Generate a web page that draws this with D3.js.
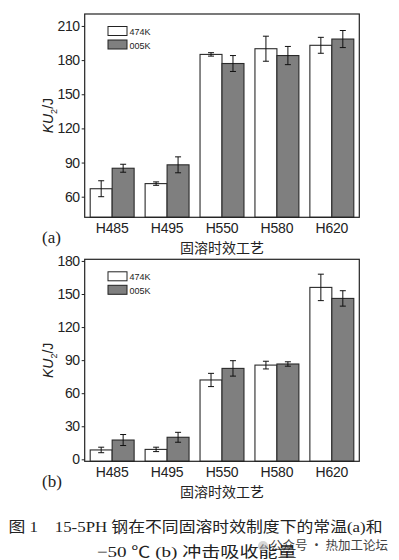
<!DOCTYPE html>
<html>
<head>
  <meta charset="utf-8">
  <title>15-5PH impact energy</title>
  <script src="https://d3js.org/d3.v7.min.js"></script>
  <style>
    body { margin: 0; background: #fff; }
    svg text { font-family: "Liberation Sans", Arial, sans-serif; fill: #222; }
  </style>
</head>
<body>
  <svg id="chart" width="399" height="560"></svg>

  <script>
    // data
    var categories = ["H485", "H495", "H550", "H580", "H620"];
    var seriesNames = ["474K", "005K"];

    // (a) room temperature
    var roomMean474 = [67, 71.5, 185, 190, 193];
    var roomErr474 = [7, 1.5, 1.5, 11, 7];
    var roomMean005 = [85, 88, 177, 184, 198.5];
    var roomErr005 = [3.5, 7, 7, 8, 7.5];
    var roomTicks = [60, 90, 120, 150, 180, 210];

    // (b) -50 C
    var coldMean474 = [8.5, 9, 72, 85.5, 156];
    var coldErr474 = [2.5, 2, 6, 3.5, 12];
    var coldMean005 = [17.5, 20, 82.5, 86.5, 146];
    var coldErr005 = [5, 4.5, 7, 2, 7];
    var coldTicks = [0, 30, 60, 90, 120, 150, 180];

    var svg = d3.select("#chart");
    var fills = { "474K": "#ffffff", "005K": "#7f7f7f" };

    function drawPanel(opt) {
      var g = svg.append("g");

      var x = d3.scaleBand()
        .domain(categories)
        .range([opt.left, opt.right])
        .paddingInner(0.2)
        .paddingOuter(0.1);

      var xs = d3.scaleBand()
        .domain(seriesNames)
        .range([0, x.bandwidth()]);

      var y = d3.scaleLinear()
        .domain(opt.domain)
        .range([opt.bottom, opt.top]);

      var rows = [];
      categories.forEach(function(c, i) {
        rows.push({ cat: c, s: "474K", v: opt.m474[i], e: opt.e474[i] });
        rows.push({ cat: c, s: "005K", v: opt.m005[i], e: opt.e005[i] });
      });

      // bars
      g.selectAll("rect.bar")
        .data(rows)
        .enter().append("rect")
        .attr("class", "bar")
        .attr("x", function(d) { return x(d.cat) + xs(d.s); })
        .attr("width", xs.bandwidth())
        .attr("y", function(d) { return y(d.v); })
        .attr("height", function(d) { return opt.bottom - y(d.v); })
        .attr("fill", function(d) { return fills[d.s]; })
        .attr("stroke", "#2a2a2a")
        .attr("stroke-width", 1.1);

      // error bars
      var eb = g.selectAll("g.err")
        .data(rows)
        .enter().append("g")
        .attr("class", "err")
        .attr("stroke", "#111")
        .attr("stroke-width", 1);
      var cx = function(d) { return x(d.cat) + xs(d.s) + xs.bandwidth() / 2; };
      eb.append("line")
        .attr("x1", cx).attr("x2", cx)
        .attr("y1", function(d) { return y(d.v + d.e); })
        .attr("y2", function(d) { return y(d.v - d.e); });
      eb.append("line")
        .attr("x1", function(d) { return cx(d) - 3; })
        .attr("x2", function(d) { return cx(d) + 3; })
        .attr("y1", function(d) { return y(d.v + d.e); })
        .attr("y2", function(d) { return y(d.v + d.e); });
      eb.append("line")
        .attr("x1", function(d) { return cx(d) - 3; })
        .attr("x2", function(d) { return cx(d) + 3; })
        .attr("y1", function(d) { return y(d.v - d.e); })
        .attr("y2", function(d) { return y(d.v - d.e); });

      // frame
      g.append("rect")
        .attr("x", opt.left)
        .attr("y", opt.top)
        .attr("width", opt.right - opt.left)
        .attr("height", opt.bottom - opt.top)
        .attr("fill", "none")
        .attr("stroke", "#222")
        .attr("stroke-width", 1.2);

      // y axis
      var yAxis = g.append("g")
        .attr("transform", "translate(" + opt.left + ",0)")
        .call(d3.axisLeft(y).tickValues(opt.ticks).tickSize(3).tickPadding(2));
      yAxis.select(".domain").remove();
      yAxis.selectAll("line").attr("stroke", "#222");
      yAxis.selectAll("text")
        .style("font-size", "14px")
        .style("letter-spacing", "-0.4px")
        .attr("fill", "#222");

      // x labels
      g.selectAll("text.xl")
        .data(categories)
        .enter().append("text")
        .attr("class", "xl")
        .attr("x", function(d) { return x(d) + x.bandwidth() / 2; })
        .attr("y", opt.bottom + 16)
        .attr("text-anchor", "middle")
        .style("font-size", "14px")
        .style("letter-spacing", "-0.2px")
        .text(function(d) { return d; });

      // y title
      var yt = g.append("text")
        .attr("transform", "translate(53," + ((opt.top + opt.bottom) / 2) + ") rotate(-90)")
        .attr("text-anchor", "middle")
        .style("font-size", "14px")
        .attr("fill", "#333");
      yt.append("tspan").style("font-style", "italic").text("KU");
      yt.append("tspan").attr("dy", 4).style("font-size", "9px").text("2");
      yt.append("tspan").attr("dy", -4).text("/J");

      // x title
      g.append("text")
        .attr("x", (opt.left + opt.right) / 2)
        .attr("y", opt.bottom + 35.5)
        .attr("text-anchor", "middle")
        .style("font-family", "'Noto Sans CJK SC', sans-serif")
        .style("font-size", "14px")
        .attr("fill", "#333")
        .text("固溶时效工艺");

      // panel letter
      g.append("text")
        .attr("x", 42)
        .attr("y", opt.bottom + 26)
        .style("font-family", "'Liberation Serif', 'Times New Roman', serif")
        .style("font-size", "17px")
        .attr("fill", "#111")
        .text(opt.letter);

      // legend
      var lg = g.append("g")
        .attr("transform", "translate(108," + (opt.top + 12.5) + ")");
      seriesNames.forEach(function(s, i) {
        lg.append("rect")
          .attr("x", 0)
          .attr("y", i * 13.5)
          .attr("width", 19)
          .attr("height", 9)
          .attr("fill", fills[s])
          .attr("stroke", "#222")
          .attr("stroke-width", 1);
        lg.append("text")
          .attr("x", 21.5)
          .attr("y", i * 13.5 + 8.5)
          .style("font-size", "9px")
          .attr("fill", "#333")
          .text(s);
      });
    }

    drawPanel({
      letter: "(a)", left: 84.7, right: 359.3, top: 14, bottom: 217.3,
      domain: [41.9, 220.5], ticks: roomTicks,
      m474: roomMean474, e474: roomErr474, m005: roomMean005, e005: roomErr005
    });

    drawPanel({
      letter: "(b)", left: 84.7, right: 359.3, top: 259.3, bottom: 461.3,
      domain: [-1.8, 181.5], ticks: coldTicks,
      m474: coldMean474, e474: coldErr474, m005: coldMean005, e005: coldErr005
    });

    // caption
    var serif = "'Liberation Serif', 'Noto Sans CJK SC', serif";
    svg.append("text")
      .attr("x", 8.5)
      .attr("y", 532)
      .attr("textLength", 374)
      .attr("lengthAdjust", "spacingAndGlyphs")
      .style("font-family", serif)
      .style("font-size", "15px")
      .attr("fill", "#1a1f3a")
      .text("图 1\u00a0\u00a0\u00a0 15-5PH 钢在不同固溶时效制度下的常温(a)和");
    svg.append("text")
      .attr("x", 96.7)
      .attr("y", 557)
      .attr("textLength", 200)
      .attr("lengthAdjust", "spacingAndGlyphs")
      .style("font-family", serif)
      .style("font-size", "15px")
      .attr("fill", "#1a1f3a")
      .text("\u221250 \u2103 (b) 冲击吸收能量");

    // watermark
    svg.append("circle")
      .attr("cx", 263).attr("cy", 546).attr("r", 5)
      .attr("fill", "#bbb").attr("opacity", 0.6);
    svg.append("text")
      .attr("x", 270)
      .attr("y", 550)
      .style("font-family", "'Noto Sans CJK SC', sans-serif")
      .style("font-size", "12.5px")
      .attr("fill", "#bdbdbd")
      .attr("opacity", 0.85)
      .text("公众号 · 热加工论坛");
  </script>
</body>
</html>
